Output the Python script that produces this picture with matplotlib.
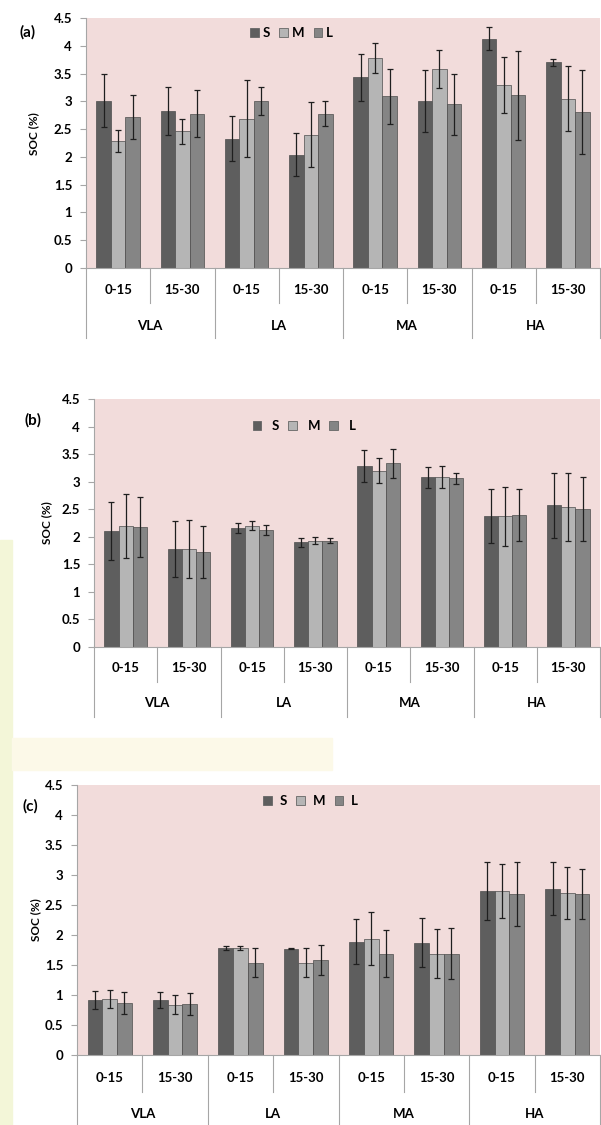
import matplotlib.pyplot as plt
from matplotlib.patches import Patch, Rectangle
import numpy as np

plt.rcParams['font.family'] = ['Lato', 'DejaVu Sans']
plt.rcParams['font.weight'] = 'bold'

# category axis
depths = ['0-15', '15-30', '0-15', '15-30', '0-15', '15-30', '0-15', '15-30']
zones = ['VLA', 'LA', 'MA', 'HA']
sizes = ['S', 'M', 'L']
yticks = [0, 0.5, 1, 1.5, 2, 2.5, 3, 3.5, 4, 4.5]
ytick_labels = ['0', '0.5', '1', '1.5', '2', '2.5', '3', '3.5', '4', '4.5']

# panel (a)
a_S = [3.01, 2.82, 2.33, 2.04, 3.43, 3.01, 4.13, 3.70]
a_M = [2.29, 2.46, 2.69, 2.40, 3.78, 3.58, 3.29, 3.05]
a_L = [2.72, 2.78, 3.01, 2.78, 3.09, 2.95, 3.11, 2.81]
a_S_err = [0.48, 0.43, 0.41, 0.39, 0.42, 0.56, 0.20, 0.06]
a_M_err = [0.20, 0.23, 0.69, 0.59, 0.27, 0.34, 0.50, 0.58]
a_L_err = [0.39, 0.42, 0.25, 0.22, 0.50, 0.55, 0.80, 0.75]

# panel (b)
b_S = [2.10, 1.78, 2.16, 1.90, 3.29, 3.08, 2.37, 2.57]
b_M = [2.19, 1.78, 2.20, 1.93, 3.20, 3.08, 2.37, 2.54]
b_L = [2.18, 1.72, 2.13, 1.93, 3.33, 3.06, 2.40, 2.50]
b_S_err = [0.53, 0.51, 0.09, 0.08, 0.29, 0.19, 0.49, 0.59]
b_M_err = [0.58, 0.52, 0.08, 0.07, 0.23, 0.20, 0.53, 0.62]
b_L_err = [0.55, 0.47, 0.09, 0.05, 0.26, 0.10, 0.47, 0.58]

# panel (c)
c_S = [0.91, 0.92, 1.78, 1.77, 1.89, 1.87, 2.73, 2.77]
c_M = [0.94, 0.84, 1.78, 1.54, 1.94, 1.69, 2.73, 2.70]
c_L = [0.87, 0.85, 1.54, 1.59, 1.69, 1.69, 2.68, 2.68]
c_S_err = [0.15, 0.13, 0.03, 0.01, 0.37, 0.41, 0.48, 0.44]
c_M_err = [0.15, 0.16, 0.035, 0.24, 0.44, 0.41, 0.45, 0.43]
c_L_err = [0.18, 0.19, 0.24, 0.25, 0.39, 0.42, 0.53, 0.42]

colors = ['#5e5e5e', '#b5b5b5', '#858585']
bg = '#f2dcdb'
line_gray = '#a6a6a6'

W, H = 601, 1125
fig = plt.figure(figsize=(W / 100, H / 100), dpi=100)

# faint watermark remnants around the lower panels
fig.patches.append(Rectangle((0, 0), 12 / W, 585 / H, transform=fig.transFigure,
                             color='#f3f6d8', zorder=0))
fig.patches.append(Rectangle((12 / W, 1 - 770 / H), 320 / W, 32 / H,
                             transform=fig.transFigure, color='#fcf9e8', zorder=0))


def draw_panel(rect, vals, errs, tag, tag_xy, ylab_xy, leg_xy, leg_pad, d_in, d_out, d_tick, d_grp):
    left, top, right, bottom = rect
    ax = fig.add_axes([left / W, 1 - bottom / H, (right - left) / W, (bottom - top) / H])
    hpx = bottom - top
    ax.set_facecolor(bg)
    x = np.arange(len(depths))
    bw = 0.225
    for i in range(3):
        ax.bar(x + (i - 1) * bw, vals[i], bw, color=colors[i], edgecolor='#4d4d4d',
               linewidth=0.5, zorder=2)
        ax.errorbar(x + (i - 1) * bw, vals[i], yerr=errs[i], fmt='none', ecolor='#1f1f1f',
                    elinewidth=0.9, capsize=2.2, capthick=0.9, zorder=3)
    ax.set_xlim(-0.5, 7.5)
    ax.set_ylim(0, 4.5)
    ax.set_yticks(yticks)
    ax.set_yticklabels(ytick_labels, fontsize=9.5, fontweight='bold')
    ax.tick_params(axis='y', direction='out', length=4, color=line_gray, pad=6)
    ax.set_xticks([])
    for s in ['top', 'right']:
        ax.spines[s].set_visible(False)
    for s in ['left', 'bottom']:
        ax.spines[s].set_color(line_gray)
        ax.spines[s].set_linewidth(0.8)

    # two-level category axis
    tr = ax.get_xaxis_transform()
    for b in [0.5, 2.5, 4.5, 6.5]:
        ax.plot([b, b], [0, -d_in / hpx], transform=tr, clip_on=False, color=line_gray, lw=0.8)
    for b in [-0.5, 1.5, 3.5, 5.5, 7.5]:
        ax.plot([b, b], [0, -d_out / hpx], transform=tr, clip_on=False, color=line_gray, lw=0.8)
    for xi, lab in zip(x, depths):
        ax.text(xi, -d_tick / hpx, lab, transform=tr, ha='center', va='center',
                fontsize=9.5, fontweight='bold')
    for k, z in enumerate(zones):
        ax.text(2 * k + 0.5, -d_grp / hpx, z, transform=tr, ha='center', va='center',
                fontsize=9.5, fontweight='bold')

    handles = [Patch(facecolor=colors[i], edgecolor='#666666', linewidth=0.6) for i in range(3)]
    ax.legend(handles, sizes, loc='center', bbox_to_anchor=leg_xy, ncol=3, frameon=False,
              handlelength=0.65, handleheight=0.65, handletextpad=leg_pad, columnspacing=0.7,
              prop={'weight': 'bold', 'size': 9.5})

    fig.text(tag_xy[0] / W, 1 - tag_xy[1] / H, tag, fontsize=11, fontweight='bold',
             ha='center', va='center')
    fig.text(ylab_xy[0] / W, 1 - ylab_xy[1] / H, 'SOC (%)', rotation=90, fontsize=8.5,
             fontweight='bold', ha='center', va='center')
    return ax


draw_panel((86, 18, 600, 268), [a_S, a_M, a_L], [a_S_err, a_M_err, a_L_err], '(a)',
           (28, 32), (34, 134), (0.40, 0.94), 0.3, 35, 70, 22, 58)
draw_panel((94, 399, 600, 647), [b_S, b_M, b_L], [b_S_err, b_M_err, b_L_err], '(b)',
           (33, 420), (47, 523), (0.415, 0.89), 0.8, 35, 70, 21, 56)
draw_panel((77, 785, 600, 1055), [c_S, c_M, c_L], [c_S_err, c_M_err, c_L_err], '(c)',
           (30, 806), (36, 920), (0.447, 0.94), 0.6, 37, 72, 23, 59)

fig.savefig('out.png', dpi=100, facecolor='white')
